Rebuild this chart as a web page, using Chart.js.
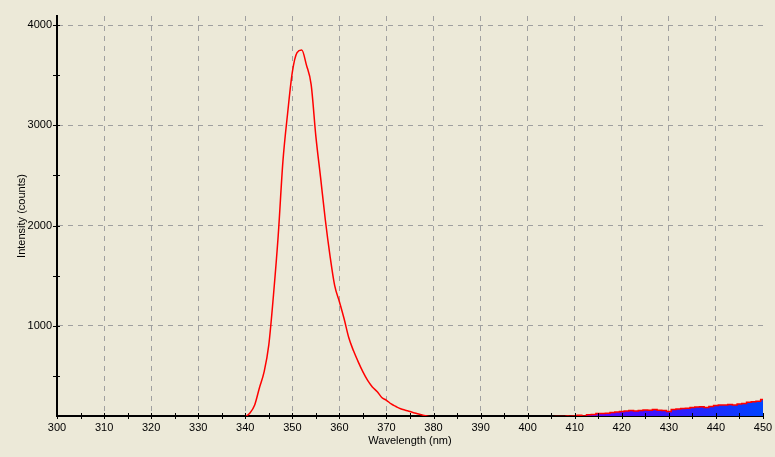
<!DOCTYPE html>
<html>
<head>
<meta charset="utf-8">
<script src="https://cdn.jsdelivr.net/npm/chart.js@4.4.1/dist/chart.umd.min.js"></script>
<style>
html,body{margin:0;padding:0;background:#ECE9D8;}
#spec{display:block;}
</style>
</head>
<body>
<canvas id="spec" width="775" height="457"></canvas>
<script>
// spectrum, one point per nm
const wavelengths=[
 300,301,302,303,304,305,306,307,308,309,
 310,311,312,313,314,315,316,317,318,319,
 320,321,322,323,324,325,326,327,328,329,
 330,331,332,333,334,335,336,337,338,339,
 340,341,342,343,344,345,346,347,348,349,
 350,351,352,353,354,355,356,357,358,359,
 360,361,362,363,364,365,366,367,368,369,
 370,371,372,373,374,375,376,377,378,379,
 380,381,382,383,384,385,386,387,388,389,
 390,391,392,393,394,395,396,397,398,399,
 400,401,402,403,404,405,406,407,408,409,
 410,411,412,413,414,415,416,417,418,419,
 420,421,422,423,424,425,426,427,428,429,
 430,431,432,433,434,435,436,437,438,439,
 440,441,442,443,444,445,446,447,448,449,
 450];
const intensity=[
 58,61,60,57,62,59,60,63,58,61,
 60,59,62,58,61,60,57,62,60,59,
 61,58,60,62,59,61,60,58,63,60,
 59,62,60,61,63,62,65,68,72,80,
 95,130,210,380,540,810,1310,1900,2640,3120,
 3530,3725,3750,3600,3405,2890,2480,2060,1700,1400,
 1240,1070,880,750,640,540,455,390,345,285,
 257,220,195,172,158,145,130,118,105,95,
 90,86,82,80,78,76,75,74,74,73,
 72,73,72,74,73,75,76,78,80,82,
 84,85,87,88,90,92,94,95,97,98,
 100,108,100,112,115,125,125,128,135,140,
 145,150,155,150,155,160,158,165,158,155,
 145,165,170,175,178,185,190,192,185,195,
 205,210,210,215,210,220,225,238,242,248,
 265];
const xTicks=[300,310,320,330,340,350,360,370,380,390,400,410,420,430,440,450];
const xMinor=[305,315,325,335,345,355,365,375,385,395,405,415,425,435,445];
const yTicks=[1000,2000,3000,4000];
const yMinor=[500,1500,2500,3500];
const fillFrom=410;

const pts=wavelengths.map((w,i)=>({x:w,y:intensity[i]}));
const peakPts=pts.filter(p=>p.x<=fillFrom);
const tailPts=pts.filter(p=>p.x>=fillFrom);

// tick marks crossing the axis lines
const axisTicks={
  id:"axisTicks",
  afterDraw(chart){
    const {ctx,scales:{x,y},chartArea:a}=chart;
    ctx.save(); ctx.strokeStyle="#000"; ctx.lineWidth=1; ctx.beginPath();
    [...xTicks,...xMinor].forEach(v=>{ const p=Math.round(x.getPixelForValue(v))+0.5; ctx.moveTo(p,a.bottom-3); ctx.lineTo(p,a.bottom+3); });
    [...yTicks,...yMinor].forEach(v=>{ const p=Math.round(y.getPixelForValue(v))+0.5; ctx.moveTo(a.left-4,p); ctx.lineTo(a.left+3,p); });
    ctx.stroke(); ctx.restore();
  }
};

const tailFill=(c)=>{
  const ch=c.chart; if(!ch.chartArea) return "#2a20ff";
  const x=ch.scales.x;
  const g=ch.ctx.createLinearGradient(x.getPixelForValue(fillFrom),0,x.getPixelForValue(450),0);
  g.addColorStop(0,"#6800ff"); g.addColorStop(0.4,"#4010ff"); g.addColorStop(1,"#0044ff");
  return g;
};

const gridColor=(c)=>(c.tick&&(c.tick.value===300||c.tick.value===450))?"rgba(0,0,0,0)":"#a0a0a0";
const font={family:"Liberation Sans, Arial, sans-serif",size:11};

new Chart(document.getElementById("spec"),{
  type:"line",
  data:{datasets:[
    {data:tailPts,borderColor:"#ff0000",borderWidth:1.5,pointRadius:0,stepped:"middle",fill:"start",backgroundColor:tailFill},
    {data:peakPts,borderColor:"#ff0000",borderWidth:1.5,pointRadius:0,cubicInterpolationMode:"monotone",fill:false}
  ]},
  options:{
    responsive:false,animation:false,
    layout:{padding:{left:0,top:16,right:12,bottom:0}},
    plugins:{legend:{display:false},tooltip:{enabled:false}},
    scales:{
      x:{type:"linear",min:300,max:450,z:1,
        afterBuildTicks:s=>{s.ticks=xTicks.map(v=>({value:v}));},
        afterFit:s=>{s.height=41; s.paddingLeft=0; s.paddingRight=0;},
        grid:{color:gridColor,drawTicks:false},
        border:{display:true,color:"#000",width:2,dash:[5,5]},
        ticks:{color:"#000",font,padding:5,maxRotation:0,autoSkip:false,callback:v=>String(v)},
        title:{display:true,text:"Wavelength (nm)",color:"#000",font,padding:{top:0,bottom:9}}},
      y:{min:100,max:4090,z:1,
        afterBuildTicks:s=>{s.ticks=yTicks.map(v=>({value:v}));},
        afterFit:s=>{s.width=57; s.paddingTop=0; s.paddingBottom=0;},
        grid:{color:"#a0a0a0",drawTicks:false},
        border:{display:true,color:"#000",width:2,dash:[5,5]},
        ticks:{color:"#000",font,padding:5,callback:v=>String(v)},
        title:{display:true,text:"Intensity (counts)",color:"#000",font,padding:{top:15,bottom:0}}}
    }
  },
  plugins:[axisTicks]
});
</script>
</body>
</html>
